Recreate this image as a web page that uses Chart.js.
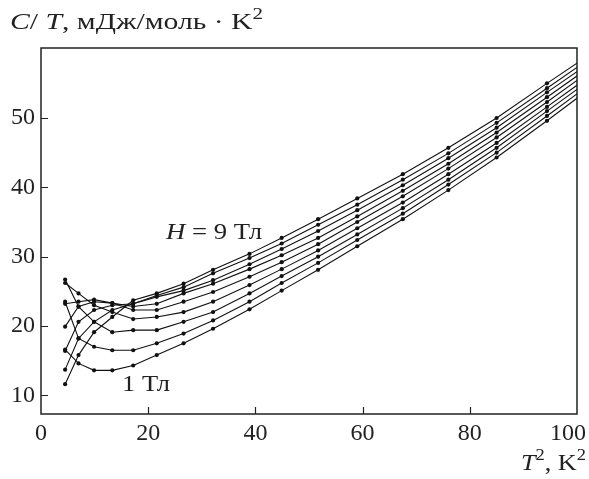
<!DOCTYPE html>
<html>
<head>
<meta charset="utf-8">
<script src="https://cdn.jsdelivr.net/npm/chart.js@4/dist/chart.umd.min.js"></script>
<style>
  html, body { margin: 0; padding: 0; background: #fff; }
  #wrap { width: 589px; height: 479px; position: relative; }
</style>
</head>
<body>
<div id="wrap"><canvas id="heatChart"></canvas></div>
<script>
// T^2 of each measured point (last one lies past the axis end, clipped)
const tSquared = [4.5, 7.0, 9.9, 13.3, 17.2, 21.6, 26.6, 32.1, 38.9, 44.9, 51.7, 59.0, 67.5, 76.0, 85.0, 94.4, 103.0];

// C/T in mJ/mol K^2 for each field
const field1 = [16.6, 14.6, 13.6, 13.6, 14.3, 15.8, 17.5, 19.6, 22.4, 25.1, 28.1, 31.5, 35.4, 39.6, 44.3, 49.6, 54.6];
const field2 = [23.5, 18.2, 17.0, 16.5, 16.5, 17.5, 18.9, 20.8, 23.5, 26.2, 29.1, 32.4, 36.2, 40.4, 45.0, 50.3, 55.2];
const field3 = [26.7, 22.8, 20.6, 19.1, 19.4, 19.4, 20.6, 22.0, 24.7, 27.2, 30.0, 33.2, 37.0, 41.1, 45.7, 51.0, 55.8];
const field4 = [26.2, 24.7, 23.0, 22.0, 21.0, 21.3, 22.0, 23.5, 25.9, 28.2, 30.9, 34.1, 37.8, 41.9, 46.4, 51.6, 56.4];
const field5 = [23.2, 23.5, 23.8, 23.3, 22.3, 22.3, 23.5, 24.9, 27.1, 29.2, 31.8, 35.0, 38.7, 42.7, 47.2, 52.3, 57.1];
const field6 = [19.9, 22.8, 23.5, 23.3, 22.8, 23.2, 24.7, 26.1, 28.2, 30.2, 32.7, 35.8, 39.5, 43.4, 47.9, 53.0, 57.7];
const field7 = [16.4, 20.6, 22.3, 23.0, 23.2, 24.2, 25.1, 26.6, 28.9, 31.1, 33.7, 36.7, 40.3, 44.2, 48.6, 53.7, 58.3];
const field8 = [13.7, 18.2, 20.6, 22.3, 23.2, 24.4, 25.6, 27.6, 29.8, 31.9, 34.6, 37.5, 41.1, 44.9, 49.3, 54.3, 58.9];
const field9 = [11.6, 15.8, 19.1, 21.3, 23.7, 24.7, 26.1, 28.1, 30.4, 32.7, 35.4, 38.4, 41.9, 45.7, 50.0, 55.0, 59.5];

const fieldNames = ['1 Тл', '2 Тл', '3 Тл', '4 Тл', '5 Тл', '6 Тл', '7 Тл', '8 Тл', '9 Тл'];
const allFields = [field1, field2, field3, field4, field5, field6, field7, field8, field9];

const xTicks = [0, 20, 40, 60, 80, 100];
const yTicks = [10, 20, 30, 40, 50];

const serif = '"Liberation Serif", "DejaVu Serif", serif';

function setFont(ctx, p, size) {
    const sz = p[2] ? Math.round(size * 0.7) : size;
    ctx.font = (p[1] ? 'italic ' : '') + sz + 'px ' + serif;
}

function piecesWidth(ctx, pieces, size) {
    let w = 0;
    pieces.forEach(function(p) {
        setFont(ctx, p, size);
        w += ctx.measureText(p[0]).width;
    });
    return w;
}

// draw text pieces [text, italic, superscript] stretched to a given width
function drawPieces(ctx, pieces, x, y, size, width) {
    const sx = width / piecesWidth(ctx, pieces, size);
    ctx.save();
    ctx.translate(x, y);
    ctx.scale(sx, 1);
    let cx = 0;
    pieces.forEach(function(p) {
        setFont(ctx, p, size);
        ctx.fillText(p[0], cx, p[2] ? -size * 0.42 : 0);
        cx += ctx.measureText(p[0]).width;
    });
    ctx.restore();
}

const framePlugin = {
    id: 'frame',
    afterDraw: function(chart) {
        const ctx = chart.ctx;
        const a = chart.chartArea;
        const xs = chart.scales.x, ys = chart.scales.y;
        ctx.save();
        ctx.strokeStyle = '#222';
        ctx.lineWidth = 1.5;
        ctx.strokeRect(a.left, a.top, a.right - a.left, a.bottom - a.top);
        ctx.lineWidth = 1.2;
        ctx.beginPath();
        [20, 40, 60, 80].forEach(function(v) {
            const px = Math.round(xs.getPixelForValue(v)) + 0.5;
            ctx.moveTo(px, a.bottom);
            ctx.lineTo(px, a.bottom - 7);
        });
        yTicks.forEach(function(v) {
            const py = Math.round(ys.getPixelForValue(v)) + 0.5;
            ctx.moveTo(a.left, py);
            ctx.lineTo(a.left + 7, py);
        });
        ctx.stroke();

        ctx.fillStyle = '#222';
        // x tick labels, the last one pulled inside the canvas
        ctx.font = '24px ' + serif;
        ctx.textBaseline = 'middle';
        ctx.textAlign = 'center';
        xTicks.forEach(function(v, i) {
            const shift = i === xTicks.length - 1 ? -9 : 0;
            ctx.fillText(String(v), xs.getPixelForValue(v) + shift, a.bottom + 20);
        });

        ctx.textBaseline = 'alphabetic';
        ctx.textAlign = 'left';
        drawPieces(ctx, [['C', true], ['/ ', false], ['T', true], [', мДж/моль · K', false], ['2', false, true]], 10, 29, 24, 253);
        drawPieces(ctx, [['T', true], ['2', false, true], [', K', false], ['2', false, true]], 521, 470, 24, 65);
        drawPieces(ctx, [['H', true], [' = 9 Тл', false]], 166, 239, 24, 96);
        drawPieces(ctx, [['1 Тл', false]], 122, 391, 24, 48);
        ctx.restore();
    }
};

const datasets = allFields.map(function(vals, i) {
    return {
        label: fieldNames[i],
        data: vals.map(function(v, j) { return { x: tSquared[j], y: v }; }),
        showLine: true,
        borderColor: '#111',
        backgroundColor: '#111',
        borderWidth: 1.1,
        pointRadius: 2.1,
        pointBorderWidth: 0,
        tension: 0
    };
});

new Chart(document.getElementById('heatChart'), {
    type: 'scatter',
    data: { datasets: datasets },
    options: {
        responsive: true,
        maintainAspectRatio: false,
        animation: false,
        layout: { padding: { top: 48, right: 12, left: 0, bottom: 0 } },
        plugins: {
            legend: { display: false },
            tooltip: { enabled: false }
        },
        scales: {
            x: {
                type: 'linear',
                min: 0,
                max: 100,
                afterBuildTicks: function(scale) {
                    scale.ticks = xTicks.map(function(v) { return { value: v }; });
                },
                afterFit: function(scale) {
                    scale.height = 65;
                    scale.paddingLeft = 0;
                    scale.paddingRight = 0;
                },
                grid: { display: false, drawTicks: false },
                border: { display: false },
                ticks: { display: false }
            },
            y: {
                type: 'linear',
                min: 7.3,
                max: 60.1,
                afterBuildTicks: function(scale) {
                    scale.ticks = yTicks.map(function(v) { return { value: v }; });
                },
                afterFit: function(scale) {
                    scale.width = 41;
                    scale.paddingTop = 0;
                    scale.paddingBottom = 0;
                },
                grid: { display: false, drawTicks: false },
                border: { display: false },
                ticks: {
                    padding: 6,
                    color: '#222',
                    font: { family: serif, size: 24 }
                }
            }
        }
    },
    plugins: [framePlugin]
});
</script>
</body>
</html>
